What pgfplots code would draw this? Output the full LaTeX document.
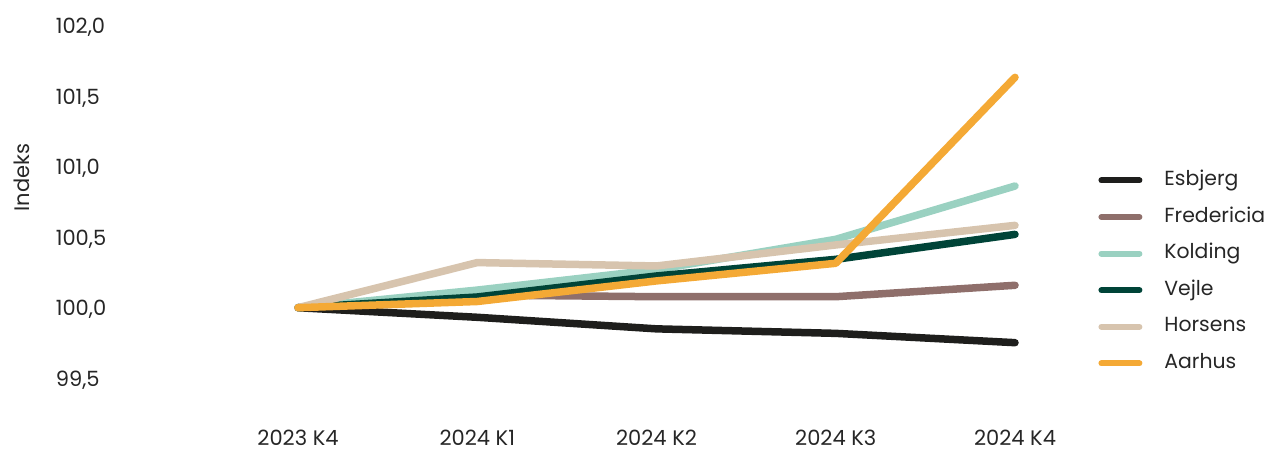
\documentclass[border=0pt]{standalone}
\usepackage{fontspec}
\setmainfont{Poppins}
\usepackage{graphicx}
\usepackage{pgfplots}
\pgfplotsset{compat=1.18}
\definecolor{cEsb}{HTML}{1E1E1C}
\definecolor{cFre}{HTML}{8F6F6B}
\definecolor{cKol}{HTML}{9AD1C1}
\definecolor{cVej}{HTML}{004438}
\definecolor{cHor}{HTML}{D7C4AE}
\definecolor{cAar}{HTML}{F4A935}
\newcommand\f{\fontsize{10.5pt}{12pt}\selectfont}
\newcommand\fl{\fontsize{10.2pt}{12pt}\selectfont}
\begin{document}
\begin{tikzpicture}
\begin{axis}[
  at={(104.2pt,15.75pt)}, anchor=south west,
  x=89.625pt, y=70.5pt,
  xmin=-0.5, xmax=4.5, ymin=99.2, ymax=102.0,
  clip=false,
  axis line style={draw=none},
  tick style={draw=none},
  xtick={0,1,2,3,4},
  xticklabels={2023 K4,2024 K1,2024 K2,2024 K3,2024 K4},
  xticklabel style={font=\f, anchor=base, inner sep=0pt, yshift=-12.3pt, text=black!85},
  ytick={99.5,100,100.5,101,101.5,102},
  yticklabels={{99,5},{100,0},{100,5},{101,0},{101,5},{102,0}},
  yticklabel style={font=\f, anchor=base west, inner sep=0pt, xshift=-76.5pt, yshift=-4.1pt, text=black!85},
  ylabel={Indeks},
  ylabel style={font=\f, at={(axis description cs:-0.2083,0.6155)}, anchor=center, text=black!85},
  legend cell align=left,
  legend image code/.code={\draw[#1, line width=3pt, line cap=round] (0pt,0pt) -- (19pt,0pt);},
  legend style={draw=none, fill=none, font=\fl, at={(0.9926,0.6345)}, anchor=north west,
    inner sep=0pt, row sep=8.3pt, column sep=11pt,
    nodes={inner sep=0pt, text height=7.5pt, text depth=2.5pt, text=black!85}},
  every axis plot/.append style={line width=3.75pt, line cap=round, line join=round},
]
\addplot[cEsb] coordinates {(0,100.0) (1,99.932) (2,99.85) (3,99.818) (4,99.752)};
\addlegendentry{Esbjerg}
\addplot[cFre] coordinates {(0,100.0) (1,100.09) (2,100.078) (3,100.078) (4,100.159)};
\addlegendentry{Fredericia}
\addplot[cKol] coordinates {(0,100.0) (1,100.125) (2,100.27) (3,100.485) (4,100.863)};
\addlegendentry{Kolding}
\addplot[cVej] coordinates {(0,100.0) (1,100.076) (2,100.225) (3,100.343) (4,100.52)};
\addlegendentry{Vejle}
\addplot[cHor] coordinates {(0,100.0) (1,100.32) (2,100.296) (3,100.445) (4,100.584)};
\addlegendentry{Horsens}
\addplot[cAar] coordinates {(0,100.0) (1,100.044) (2,100.19) (3,100.315) (4,101.634)};
\addlegendentry{Aarhus}
\end{axis}
\pgfresetboundingbox
\path[use as bounding box] (0,0) rectangle (638pt,226pt);
\end{tikzpicture}
\end{document}
